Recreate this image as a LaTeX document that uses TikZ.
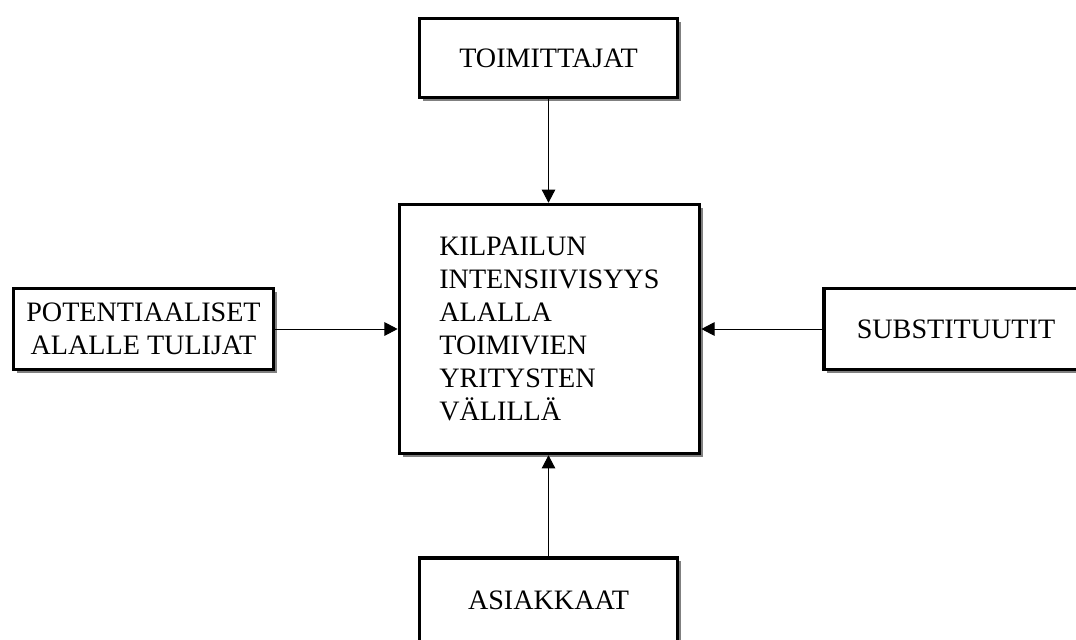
\documentclass[tikz,border=0pt]{standalone}
\usepackage{fontspec}
\setmainfont{Liberation Serif}
\usetikzlibrary{arrows.meta,shadows,positioning}

\begin{document}
\begin{tikzpicture}[x=0.025cm,y=-0.025cm,
    box/.style={draw, line width=2.6pt, fill=white, align=center, inner sep=0pt,
      font=\fontsize{20}{23.4}\selectfont,
      drop shadow={shadow xshift=0.08cm, shadow yshift=-0.08cm, fill=black!50, opacity=1}},
    link/.style={-{Triangle[length=0.33cm,width=0.34cm]}, line width=0.7pt}]
  \useasboundingbox (0,0) rectangle (1076,639);
  \clip (0,0) rectangle (1076,639);
  % outer forces
  \node[box, minimum width=6.45cm, minimum height=1.98cm] (supp) at (548.5,58) {TOIMITTAJAT};
  \node[box, minimum width=6.5cm, minimum height=2.02cm] (entr) at (143.5,329) {POTENTIAALISET\\ALALLE TULIJAT};
  \node[box, minimum width=6.6cm, minimum height=2.02cm] (subs) at (956,329) {SUBSTITUUTIT};
  \node[box, minimum width=6.45cm, minimum height=2.1cm] (cust) at (548.5,600) {ASIAKKAAT};
  % rivalry in the middle
  \node[box, align=left, minimum width=7.5cm, minimum height=6.22cm] (riv) at (549.5,329)
    {KILPAILUN\\INTENSIIVISYYS\\ALALLA\\TOIMIVIEN\\YRITYSTEN\\VÄLILLÄ};
  % arrows into the middle
  \draw[link] (supp) -- (supp |- riv.north);
  \draw[link] (entr) -- (riv);
  \draw[link] (subs) -- (riv);
  \draw[link] (cust) -- (cust |- riv.south);
\end{tikzpicture}
\end{document}
